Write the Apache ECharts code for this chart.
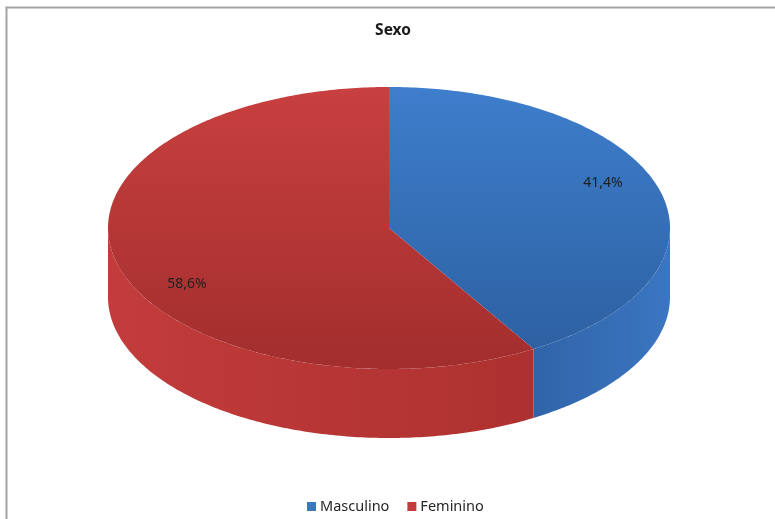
<!DOCTYPE html>
<html>
<head>
<meta charset="utf-8">
<title>Sexo</title>
<script src="https://cdn.jsdelivr.net/npm/echarts@6/dist/echarts.min.js"></script>
<style>
  html, body { margin: 0; padding: 0; background: #ffffff; }
  #chart { width: 775px; height: 519px; }
</style>
</head>
<body>
<div id="chart"></div>
<script>
// Share of respondents by sex (percent)
const categories = ['Masculino', 'Feminino'];
const shares = [41.4, 58.6];

// Face colours: [top light, top dark], [wall left, wall right]
const palette = [
  { legend: '#3A77C4', top: ['#3E7ECC', '#2D61A2'], wall: ['#3064A9', '#3B76C1'] },
  { legend: '#C23B3A', top: ['#C8403F', '#A22E2D'], wall: ['#C23C3B', '#AD3130'] }
];

// Geometry of the tilted disc
const PIE = { cx: 389, cy: 228, rx: 281, ry: 141, depth: 69 };
// Where the percentage labels sit relative to the slice's middle angle
const LABEL = { dx: 6, dy: 5.5, kx: 0.768, ky: 1.34 };

const total = shares.reduce((a, b) => a + b, 0);
const starts = shares.map((v, i) => shares.slice(0, i).reduce((a, b) => a + b, 0));

function rimPoint(theta, dy) {
  return [PIE.cx + PIE.rx * Math.sin(theta), PIE.cy - PIE.ry * Math.cos(theta) + (dy || 0)];
}
function rimArc(a0, a1, dy) {
  const n = Math.max(2, Math.ceil(Math.abs(a1 - a0) / (Math.PI / 240)));
  const pts = [];
  for (let i = 0; i <= n; i++) pts.push(rimPoint(a0 + (a1 - a0) * i / n, dy));
  return pts;
}
function fmtPct(v) {
  return v.toFixed(1).replace('.', ',') + '%';
}

function makeRenderer(idx) {
  return function (params, api) {
    const value = api.value(0);
    const start = api.value(1);
    const sum = api.value(2);
    const a0 = start / sum * Math.PI * 2;
    const a1 = (start + value) / sum * Math.PI * 2;
    const col = palette[idx];
    const children = [];

    // Visible outer wall: the part of the rim facing the viewer (90deg..270deg)
    const f0 = Math.max(a0, Math.PI / 2);
    const f1 = Math.min(a1, Math.PI * 3 / 2);
    if (f1 > f0) {
      const pts = rimArc(f0, f1, 0).concat(rimArc(f1, f0, PIE.depth));
      children.push({
        type: 'polygon',
        shape: { points: pts },
        style: {
          fill: new echarts.graphic.LinearGradient(0, 0, 1, 0, [
            { offset: 0, color: col.wall[0] },
            { offset: 1, color: col.wall[1] }
          ])
        },
        z2: 1
      });
    }

    // Top face of the slice
    children.push({
      type: 'polygon',
      shape: { points: [[PIE.cx, PIE.cy]].concat(rimArc(a0, a1, 0)) },
      style: {
        fill: new echarts.graphic.LinearGradient(0, 0, 0, 1, [
          { offset: 0, color: col.top[0] },
          { offset: 1, color: col.top[1] }
        ])
      },
      z2: 2
    });

    // Percentage label
    const mid = (a0 + a1) / 2;
    children.push({
      type: 'text',
      x: PIE.cx + LABEL.dx + LABEL.kx * PIE.rx * Math.sin(mid),
      y: PIE.cy + LABEL.dy - LABEL.ky * PIE.ry * Math.cos(mid),
      style: {
        text: fmtPct(value),
        fill: '#1f1f1f',
        font: '14px "Noto Sans", sans-serif',
        align: 'center',
        verticalAlign: 'middle'
      },
      z2: 3
    });

    return { type: 'group', children: children };
  };
}

const chart = echarts.init(document.getElementById('chart'), null, { renderer: 'canvas' });

chart.setOption({
  animation: false,
  backgroundColor: '#ffffff',
  title: {
    text: 'Sexo',
    left: 393,
    top: 23,
    padding: 0,
    textAlign: 'center',
    textStyle: { fontFamily: '"Noto Sans", sans-serif', fontSize: 15.5, fontWeight: 'bold', color: '#1a1a1a' }
  },
  legend: {
    data: categories,
    left: 307,
    top: 499,
    padding: 0,
    icon: 'rect',
    itemWidth: 9,
    itemHeight: 9,
    itemGap: 18,
    textStyle: { fontFamily: '"Noto Sans", sans-serif', fontSize: 14.5, color: '#262626', padding: [0, 0, 0, -1] }
  },
  graphic: [{
    type: 'polyline',
    shape: { points: [[6.5, 519], [6.5, 7.5], [775, 7.5]] },
    style: { stroke: '#a3a3a3', lineWidth: 2, fill: null },
    silent: true
  }],
  series: categories.map((name, i) => ({
    type: 'custom',
    name: name,
    coordinateSystem: 'none',
    itemStyle: { color: palette[i].legend },
    renderItem: makeRenderer(i),
    data: [[shares[i], starts[i], total]]
  }))
});
</script>
</body>
</html>
